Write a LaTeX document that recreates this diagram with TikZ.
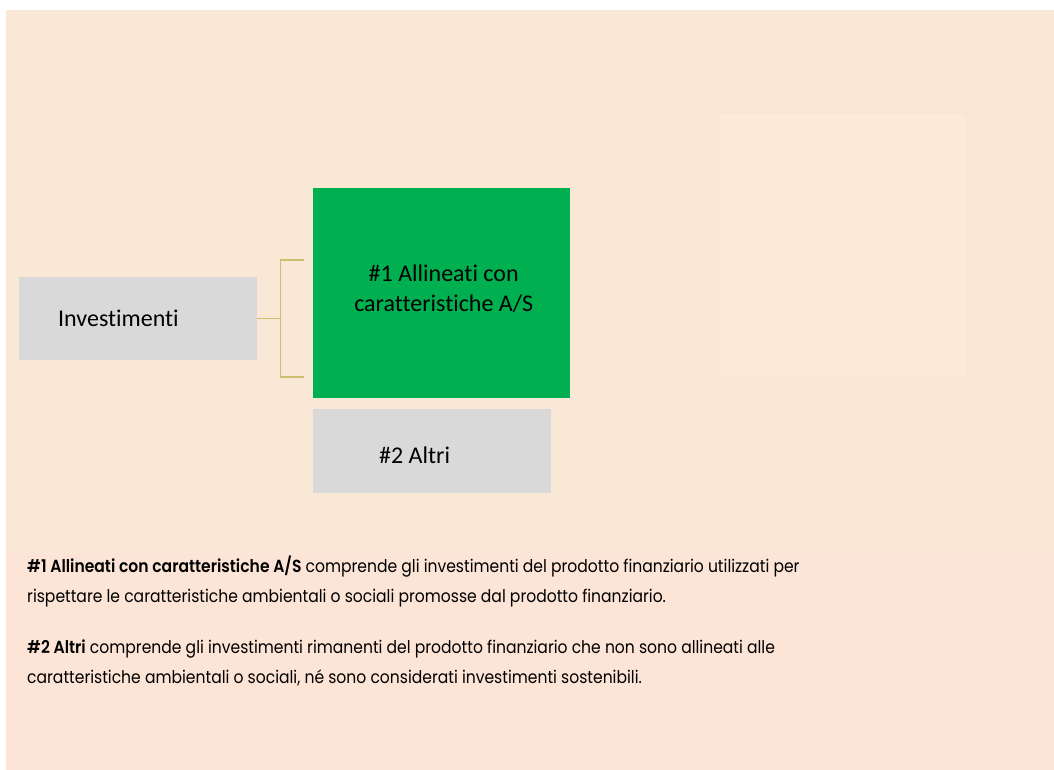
\documentclass[tikz,border=0pt]{standalone}
\usepackage{fontspec}
\setmainfont[FakeStretch=0.89, BoldFont={Poppins SemiBold}, BoldFeatures={FakeStretch=0.89}]{Poppins}
\newfontfamily\boxfont[Ligatures=NoCommon]{Carlito}
\definecolor{bgtop}{HTML}{FAE8D7}
\definecolor{bgbot}{HTML}{FCE4D6}
\definecolor{ghostfill}{HTML}{FBEAD6}
\definecolor{ghostline}{HTML}{F8E6D5}
\definecolor{boxgray}{HTML}{D9D9D9}
\definecolor{boxgreen}{HTML}{00B050}
\definecolor{brkcol}{HTML}{CCBF6E}
\begin{document}
\begin{tikzpicture}[x=1pt,y=-1pt,
  box/.style={anchor=north west, draw=none, inner ysep=0pt, font=\boxfont\fontsize{24}{30}\selectfont},
  graybox/.style={box, fill=boxgray},
  greenbox/.style={box, fill=boxgreen},
  boxlabel/.style={inner sep=0pt, align=center, font=\boxfont\fontsize{24}{30}\selectfont},
  ghost/.style={anchor=north west, fill=ghostfill, draw=ghostline, line width=0.8pt, rounded corners=2pt, inner sep=0pt},
  brk/.style={draw=brkcol, line width=1.4pt},
  desc/.style={anchor=base west, inner sep=0pt, font=\fontsize{17.5}{20}\selectfont}]
\useasboundingbox (0,0) rectangle (1054,770);
\fill[white] (0,0) rectangle (1054,770);
\fill[bgtop] (6,10) rectangle (1054,553);
\fill[bgbot] (6,553) rectangle (1054,770);
\node[ghost, minimum width=247pt, minimum height=265pt] (ghostbox) at (719,113) {};
\node[graybox, minimum width=238pt, minimum height=83pt, text width=160pt, inner xsep=39pt, align=left] (inv) at (19,277) {Investimenti};
\node[greenbox, minimum width=257pt, minimum height=210pt] (green) at (313,188) {};
\node[boxlabel] (greenlabel) at ([xshift=2pt,yshift=5pt]green.center) {\#1 Allineati con\\caratteristiche A/S};
\node[graybox, minimum width=238pt, minimum height=84pt] (altri) at (313,409) {};
\node[boxlabel, anchor=base west] (altrilabel) at ([xshift=66pt,yshift=-12pt]altri.west) {\#2 Altri};
\coordinate (bT) at (304,260);
\coordinate (bB) at (304,377);
\draw[brk] (inv.east) -- ++(23,0) coordinate (bm);
\draw[brk] (bT) -| (bm) |- (bB);
\node[desc] (d1) at (27,572) {\textbf{\#1 Allineati con caratteristiche A/S} comprende gli investimenti del prodotto finanziario utilizzati per};
\node[desc] (d2) at (27,602) {rispettare le caratteristiche ambientali o sociali promosse dal prodotto finanziario.};
\node[desc] (d3) at (27,653) {\textbf{\#2 Altri} comprende gli investimenti rimanenti del prodotto finanziario che non sono allineati alle};
\node[desc] (d4) at (27,683) {caratteristiche ambientali o sociali, né sono considerati investimenti sostenibili.};
\end{tikzpicture}
\end{document}
